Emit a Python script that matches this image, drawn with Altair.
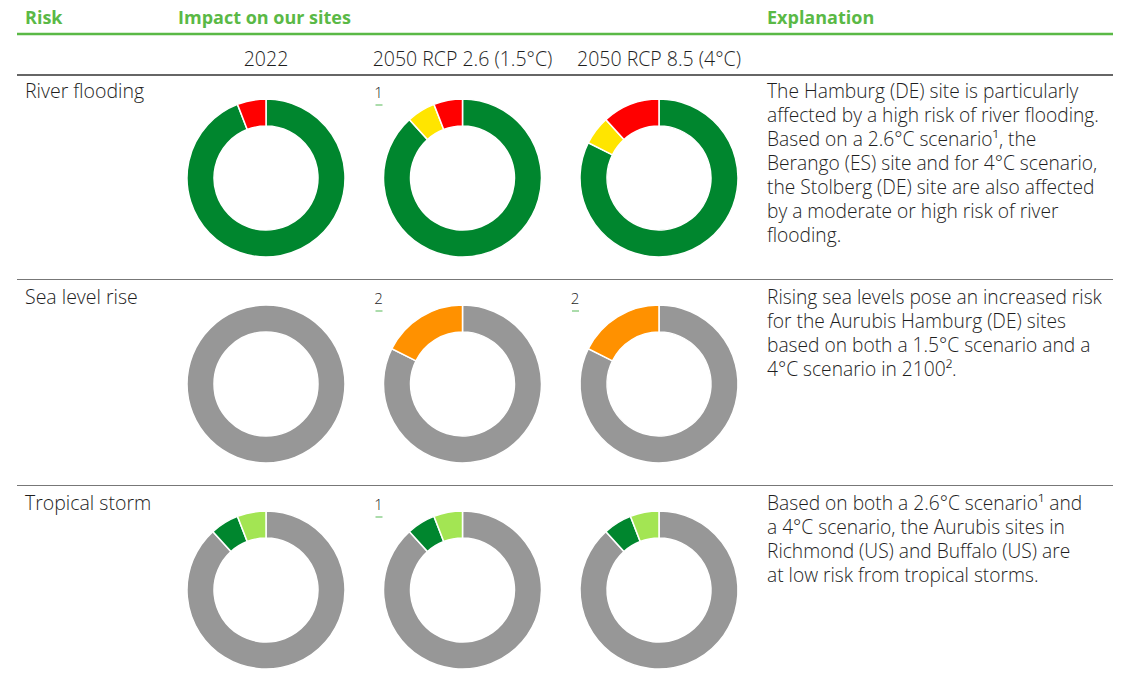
import altair as alt
import pandas as pd

# ---- data ----
risks = ["River flooding", "Sea level rise", "Tropical storm"]
scenarios = ["2022", "2050 RCP 2.6 (1.5°C)", "2050 RCP 8.5 (4°C)"]
levels = ["Not relevant", "Very low", "Low", "Moderate", "High", "Very high"]
level_colors = ["#979797", "#00862e", "#a3e553", "#ffe500", "#ff9100", "#ff0000"]

# number of sites per risk level (17 sites per donut)
river_2022 = [0, 16, 0, 0, 0, 1]
river_rcp26 = [0, 15, 0, 1, 0, 1]
river_rcp85 = [0, 14, 0, 1, 0, 2]
sea_2022 = [17, 0, 0, 0, 0, 0]
sea_rcp26 = [14, 0, 0, 0, 3, 0]
sea_rcp85 = [14, 0, 0, 0, 3, 0]
storm_2022 = [15, 1, 1, 0, 0, 0]
storm_rcp26 = [15, 1, 1, 0, 0, 0]
storm_rcp85 = [15, 1, 1, 0, 0, 0]

counts = {
    ("River flooding", "2022"): river_2022,
    ("River flooding", "2050 RCP 2.6 (1.5°C)"): river_rcp26,
    ("River flooding", "2050 RCP 8.5 (4°C)"): river_rcp85,
    ("Sea level rise", "2022"): sea_2022,
    ("Sea level rise", "2050 RCP 2.6 (1.5°C)"): sea_rcp26,
    ("Sea level rise", "2050 RCP 8.5 (4°C)"): sea_rcp85,
    ("Tropical storm", "2022"): storm_2022,
    ("Tropical storm", "2050 RCP 2.6 (1.5°C)"): storm_rcp26,
    ("Tropical storm", "2050 RCP 8.5 (4°C)"): storm_rcp85,
}

explanations = [
    ["The Hamburg (DE) site is particularly",
     "affected by a high risk of river flooding.",
     "Based on a 2.6°C scenario¹, the",
     "Berango (ES) site and for 4°C scenario,",
     "the Stolberg (DE) site are also affected",
     "by a moderate or high risk of river",
     "flooding."],
    ["Rising sea levels pose an increased risk",
     "for the Aurubis Hamburg (DE) sites",
     "based on both a 1.5°C scenario and a",
     "4°C scenario in 2100²."],
    ["Based on both a 2.6°C scenario¹ and",
     "a 4°C scenario, the Aurubis sites in",
     "Richmond (US) and Buffalo (US) are",
     "at low risk from tropical storms."],
]

footnote_risk = ["River flooding", "Sea level rise", "Sea level rise", "Tropical storm"]
footnote_scen = ["2050 RCP 2.6 (1.5°C)", "2050 RCP 2.6 (1.5°C)", "2050 RCP 8.5 (4°C)", "2050 RCP 2.6 (1.5°C)"]
footnote_mark = ["1", "2", "2", "1"]

headers = ["Risk", "Impact on our sites", "Explanation"]

# ---- tables ----
rows = []
for (r, s), vals in counts.items():
    for i, (lvl, v) in enumerate(zip(levels, vals)):
        if v > 0:
            rows.append({"risk": r, "scenario": s, "level": lvl, "ord": i, "sites": v})
donut_df = pd.DataFrame(rows)
risk_df = pd.DataFrame({"risk": risks, "expl": explanations})
scen_df = pd.DataFrame({"scenario": scenarios})
foot_df = pd.DataFrame({"risk": footnote_risk, "scenario": footnote_scen, "mark": footnote_mark})
sep_df = pd.DataFrame({"risk": risks[:-1]})

FONT = "Open Sans"
GREEN = "#5ab946"
TXT = "#1e1e1e"
BODY = 19.2
WEIGHT = 300

xs = alt.Scale(type="point", domain=scenarios, range=[258, 651], padding=0)
ys = alt.Scale(type="point", domain=risks, range=[160, 572], padding=0)
X = alt.X("scenario:N", scale=xs, axis=None)
Y = alt.Y("risk:N", scale=ys, axis=None)

donuts = alt.Chart(donut_df).transform_stack(
    stack="sites", as_=["start", "end"], groupby=["risk", "scenario"],
    sort=[alt.SortField("ord", order="ascending")]
).mark_arc(stroke="white", strokeWidth=1.5).encode(
    x=X, y=Y,
    theta=alt.Theta("start:Q", stack=None, scale=alt.Scale(domain=[0, 17])),
    theta2="end:Q",
    color=alt.Color("level:N", scale=alt.Scale(domain=levels, range=level_colors), legend=None),
    radius=alt.value(79), radius2=alt.value(52),
)

sub = alt.Chart(scen_df).mark_text(font=FONT, fontSize=19.5, fontWeight=WEIGHT, color=TXT,
                                   baseline="alphabetic").encode(
    x=X, y=alt.value(48), text="scenario:N")

risk_lbl = alt.Chart(risk_df).mark_text(font=FONT, fontSize=19.5, fontWeight=WEIGHT, color=TXT,
                                        align="left", baseline="alphabetic", dy=-80).encode(
    y=Y, x=alt.value(17), text="risk:N")

expl = alt.Chart(risk_df).mark_text(font=FONT, fontSize=BODY, fontWeight=WEIGHT, color=TXT,
                                    align="left", baseline="alphabetic", dy=-80, lineHeight=24).encode(
    y=Y, x=alt.value(759), text="expl")

foot = alt.Chart(foot_df).mark_text(font=FONT, fontSize=15, fontWeight=WEIGHT, color=TXT,
                                    align="center", baseline="alphabetic", dx=-84, dy=-80).encode(
    x=X, y=Y, text="mark:N")
foot_line = alt.Chart(foot_df).mark_rule(color="#8fd18f", strokeWidth=1.5,
                                         xOffset=-87, x2Offset=-80, yOffset=-73).encode(
    x=X, x2="scenario:N", y=Y)

hdr_x = [17, 170, 759]
hdr_layers = []
for h, hx in zip(headers, hdr_x):
    hdr_layers.append(
        alt.Chart(pd.DataFrame({"h": [h]})).mark_text(
            font=FONT, fontSize=18, fontWeight="bold", color=GREEN, align="left",
            baseline="alphabetic").encode(x=alt.value(hx), y=alt.value(6), text="h:N"))

green_line = alt.Chart(pd.DataFrame({"a": [0]})).mark_rule(color=GREEN, strokeWidth=2.5).encode(
    x=alt.value(9), x2=alt.value(1105), y=alt.value(16))
dark_line = alt.Chart(pd.DataFrame({"a": [0]})).mark_rule(color="#333333", strokeWidth=1.5).encode(
    x=alt.value(9), x2=alt.value(1105), y=alt.value(57))
seps = alt.Chart(sep_df).mark_rule(color="#777777", strokeWidth=1, yOffset=101.5).encode(
    x=alt.value(9), x2=alt.value(1105), y=Y)

chart = alt.layer(
    green_line, dark_line, seps, *hdr_layers, sub, risk_lbl, expl, donuts, foot, foot_line
).properties(
    width=1109, height=657,
    padding={"left": 0, "top": 10, "right": 0, "bottom": 0},
    autosize=alt.AutoSizeParams(type="none")
).configure_view(stroke=None)

chart.save("out.html", embed_options={"renderer": "svg", "actions": False})
